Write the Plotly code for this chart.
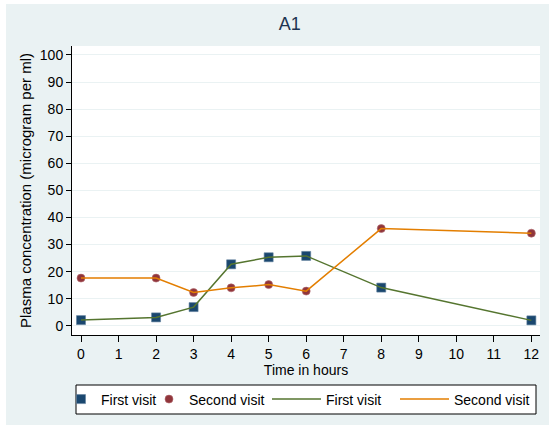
import plotly.graph_objects as go

# Sampling times (hours) and plasma concentrations (microgram per ml)
hours = [0, 2, 3, 4, 5, 6, 8, 12]
first_visit = [2.1, 3.1, 6.9, 22.7, 25.3, 25.8, 14.1, 2.0]
second_visit = [17.6, 17.6, 12.3, 14.0, 15.2, 12.8, 35.9, 34.2]

x_ticks = list(range(0, 13))
y_ticks = list(range(0, 101, 10))

NAVY = "#1A476F"
MAROON = "#90353B"
GREEN = "#55752F"
ORANGE = "#E37E00"
BG = "#EAF2F3"
FONT = "Liberation Sans, Arial, sans-serif"

# plot-area geometry in pixels, used to place paper-referenced decorations
W, H = 549, 425
L, R, T, B = 72, 9, 46, 90
PW, PH = W - L - R, H - T - B


def px_x(x):
    return (x - L) / PW


def px_y(y):
    return (H - B - y) / PH


fig = go.Figure()

# Markers first, connecting lines drawn on top
fig.add_trace(go.Scatter(x=hours, y=first_visit, mode="markers", name="First visit",
                         legend="legend", legendwidth=43,
                         marker=dict(symbol="square", size=9, color=NAVY,
                                     line=dict(width=0.6, color="#5f7f9c"))))
fig.add_trace(go.Scatter(x=hours, y=second_visit, mode="markers", name="Second visit",
                         legend="legend", legendwidth=90,
                         marker=dict(symbol="circle", size=8, color=MAROON,
                                     line=dict(width=0.6, color="#b06a6f"))))
fig.add_trace(go.Scatter(x=hours, y=first_visit, mode="lines", name="First visit",
                         legend="legend2", legendwidth=64,
                         line=dict(color=GREEN, width=1.5)))
fig.add_trace(go.Scatter(x=hours, y=second_visit, mode="lines", name="Second visit",
                         legend="legend2", legendwidth=80,
                         line=dict(color=ORANGE, width=1.5)))

legend_mid = px_y(399.5)

fig.update_layout(
    width=W, height=H,
    margin=dict(l=L, r=R, t=T, b=B, autoexpand=False),
    paper_bgcolor=BG,
    plot_bgcolor="white",
    font=dict(family=FONT, size=14, color="black"),
    title=dict(text="A1", x=0.528, xref="container", xanchor="center",
               y=1 - 24 / H, yref="container", yanchor="middle",
               font=dict(size=18, color="#1E3550")),
    xaxis=dict(range=[-0.24, 12.23], tickmode="array", tickvals=x_ticks,
               ticktext=[str(v) for v in x_ticks],
               showgrid=False, zeroline=False,
               showline=True, linecolor="black", linewidth=1,
               ticks="outside", ticklen=6, tickcolor="black",
               tickfont=dict(size=14),
               title=dict(text="Time in hours", font=dict(size=14), standoff=0)),
    yaxis=dict(range=[-3.4, 103.3], tickmode="array", tickvals=y_ticks,
               ticktext=[str(v) for v in y_ticks],
               showgrid=True, gridcolor=BG, gridwidth=1, zeroline=False,
               showline=True, linecolor="black", linewidth=1,
               ticks="outside", ticklen=5, tickcolor="black",
               tickfont=dict(size=14),
               title=dict(text="Plasma concentration (microgram per ml)",
                          font=dict(size=15), standoff=4)),
    legend=dict(orientation="h", x=px_x(61), xanchor="left",
                y=legend_mid, yanchor="middle",
                bgcolor="rgba(0,0,0,0)", borderwidth=0,
                font=dict(size=14), entrywidthmode="pixels"),
    legend2=dict(orientation="h", x=px_x(267), xanchor="left",
                 y=legend_mid, yanchor="middle",
                 bgcolor="rgba(0,0,0,0)", borderwidth=0,
                 font=dict(size=14), itemwidth=49, entrywidthmode="pixels"),
    shapes=[
        # thin white border along the top and left edges of the canvas
        dict(type="rect", xref="paper", yref="paper",
             x0=px_x(0), x1=px_x(W), y0=px_y(4), y1=px_y(0),
             fillcolor="white", line=dict(width=0), layer="below"),
        dict(type="rect", xref="paper", yref="paper",
             x0=px_x(0), x1=px_x(6), y0=px_y(H), y1=px_y(0),
             fillcolor="white", line=dict(width=0), layer="below"),
        # shared frame behind both legend rows
        dict(type="rect", xref="paper", yref="paper",
             x0=px_x(76), x1=px_x(536), y0=px_y(414), y1=px_y(385),
             fillcolor="white", line=dict(width=1, color="black"), layer="below"),
    ],
    showlegend=True,
)

fig.write_html("out.html")
